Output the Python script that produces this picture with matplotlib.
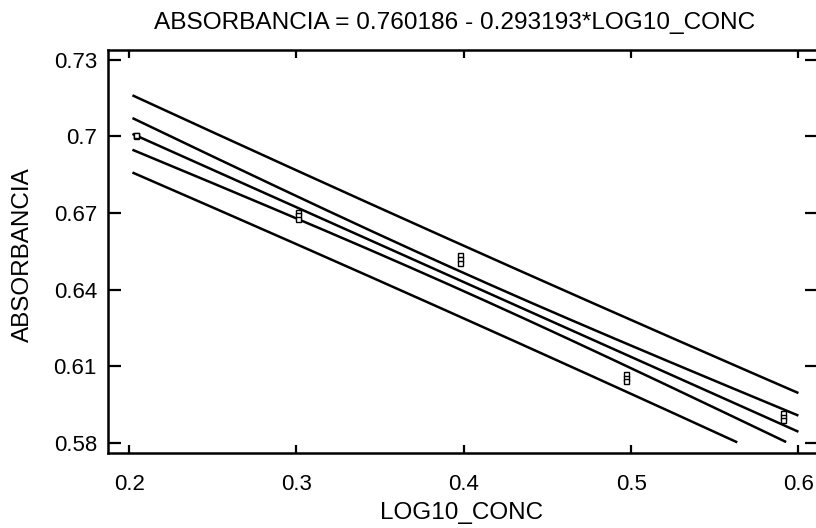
import numpy as np
import matplotlib
matplotlib.use("Agg")
import matplotlib.pyplot as plt

# ---- data ----
x_levels = [0.204, 0.301, 0.398, 0.497, 0.591]          # LOG10_CONC
abs_rep1 = [0.7003, 0.6705, 0.6535, 0.6070, 0.5915]      # ABSORBANCIA replicate 1
abs_rep2 = [0.7005, 0.6691, 0.6520, 0.6055, 0.5901]      # replicate 2
abs_rep3 = [0.7007, 0.6677, 0.6505, 0.6040, 0.5887]      # replicate 3
x_ticks = [0.2, 0.3, 0.4, 0.5, 0.6]
y_ticks = [0.58, 0.61, 0.64, 0.67, 0.70, 0.73]
y_tick_labels = ["0.58", "0.61", "0.64", "0.67", "0.7", "0.73"]
title_text = "ABSORBANCIA = 0.760186 - 0.293193*LOG10_CONC"

x = np.array(x_levels * 3)
y = np.array(abs_rep1 + abs_rep2 + abs_rep3)

# ---- regression with 95% confidence and prediction limits ----
n = len(x)
slope, intercept = np.polyfit(x, y, 1)
resid = y - (intercept + slope * x)
s = np.sqrt(np.sum(resid ** 2) / (n - 2))
xm = x.mean()
sxx = np.sum((x - xm) ** 2)
try:
    from scipy import stats
    tcrit = stats.t.ppf(0.975, n - 2)
except Exception:
    tcrit = 2.160  # t(0.975, 13)

xg = np.linspace(0.202, 0.600, 600)
yg = intercept + slope * xg
se_mean = s * np.sqrt(1.0 / n + (xg - xm) ** 2 / sxx)
se_pred = s * np.sqrt(1.0 + 1.0 / n + (xg - xm) ** 2 / sxx)
curves = [yg, yg + tcrit * se_mean, yg - tcrit * se_mean,
          yg + tcrit * se_pred, yg - tcrit * se_pred]

plt.rcParams["font.family"] = ["Liberation Sans", "DejaVu Sans"]

fig = plt.figure(figsize=(8.16, 5.28), dpi=100)
ax = fig.add_axes([108 / 816, 1 - 453 / 528, (816.5 - 108) / 816, (453 - 49.5) / 528])

for c in curves:
    cc = np.where(c >= 0.58, c, np.nan)
    ax.plot(xg, cc, color="black", lw=1.8, solid_capstyle="butt")

ax.plot(x, y, linestyle="none", marker="s", markersize=3.6,
        markerfacecolor="white", markeredgecolor="black", markeredgewidth=1.0)

ax.set_xlim(0.1874, 0.6108)
ax.set_ylim(0.5759, 0.7341)
ax.set_xticks(x_ticks)
ax.set_xticklabels([f"{v:g}" for v in x_ticks])
ax.set_yticks(y_ticks)
ax.set_yticklabels(y_tick_labels)

for sp in ax.spines.values():
    sp.set_linewidth(1.8)
    sp.set_color("black")

ax.tick_params(axis="x", which="major", direction="in", length=6, width=1.6,
               top=True, bottom=True, labelsize=16, pad=15)
ax.tick_params(axis="y", which="major", direction="in", length=9, width=1.6,
               left=True, right=True, labelsize=16, pad=8)

ax.set_xlabel("LOG10_CONC", fontsize=17.5)
ax.xaxis.set_label_coords((462 - 108) / 708.5, (453 - 513) / 403.5)
ax.xaxis.label.set_va("center")
ax.set_ylabel("ABSORBANCIA", fontsize=17.5)
ax.yaxis.set_label_coords((23 - 108) / 708.5, (453 - 255) / 403.5)
ax.yaxis.label.set_va("center")
fig.text(455 / 816, 1 - 23 / 528, title_text, ha="center", va="center", fontsize=17.6)

fig.savefig("out.png", dpi=100)
